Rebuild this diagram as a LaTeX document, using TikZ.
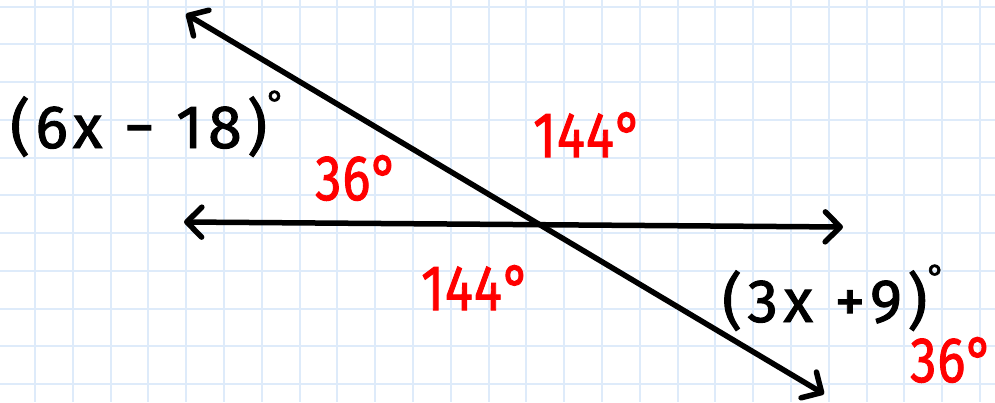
\documentclass[tikz,border=0pt]{standalone}
\usepackage{fontspec}
\setmainfont{Fira Sans}
\usetikzlibrary{arrows.meta}
\definecolor{gridblue}{RGB}{222,235,250}
\definecolor{penred}{RGB}{255,0,0}
\tikzset{
  gridline/.style={draw=gridblue, line width=2pt},
  penline/.style={draw=black, line width=5.5pt, line cap=round,
    {Straight Barb[length=15pt, width=30pt, line width=5.5pt, round]}-{Straight Barb[length=15pt, width=30pt, line width=5.5pt, round]}},
  blacklabel/.style={anchor=base west, inner sep=0pt, text=black, font=\fontsize{61}{63}\selectfont\addfontfeature{LetterSpace=9,FakeBold=1.6}},
  redlabel/.style={anchor=base west, inner sep=0pt, text=penred, font=\fontsize{64}{66}\selectfont\addfontfeature{LetterSpace=2,FakeBold=1.6}}
}
\newcommand{\degmark}{\raisebox{0.55em}{\fontsize{34}{34}\selectfont°}}
\begin{document}
\begin{tikzpicture}[x=1pt, y=-1pt]
\useasboundingbox (0,0) rectangle (995,402);
\fill[white] (0,0) rectangle (995,402);
\foreach \i in {0,...,25} \draw[gridline] ({35+37.8*\i},0) -- ({35+37.8*\i},402);
\foreach \k in {0,...,10} \draw[gridline] (0,{6.5+37.75*\k}) -- (995,{6.5+37.75*\k});
\coordinate (A) at (186,14);
\coordinate (B) at (824,394);
\coordinate (C) at (184,222);
\coordinate (D) at (843,227);
\draw[penline] (A) -- (B);
\draw[penline] (C) -- (D);
\node[blacklabel] (l1) at (10,148) {(6x − 18)\degmark};
\node[blacklabel] (l2) at (722,322) {(3x +9)\degmark};
\node[redlabel] (r1) at (315,200) {\scalebox{0.82}[1]{36°}};
\node[redlabel] (r2) at (533,157) {\scalebox{0.82}[1]{144°}};
\node[redlabel] (r3) at (421,310) {\scalebox{0.82}[1]{144°}};
\node[redlabel] (r4) at (910,382) {\scalebox{0.82}[1]{36°}};
\end{tikzpicture}
\end{document}
